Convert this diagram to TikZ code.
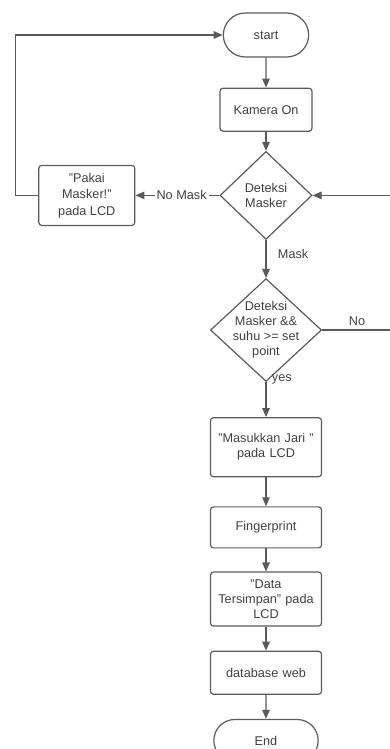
\documentclass[tikz,border=0pt]{standalone}
\usepackage{fontspec}
\setmainfont{Liberation Sans}
\usepackage{xcolor}
\usepackage{tikz}
\usetikzlibrary{shapes,arrows,arrows.meta}
\usetikzlibrary{arrows,positioning}
\definecolor{garis}{HTML}{5a5a5a}
\definecolor{teks}{HTML}{404040}
\tikzset{
    %Define standard arrow tip
    >={Triangle[length=9pt,width=7.5pt]},
    %Define style for boxes
    kotak/.style={
           rectangle,
           rounded corners=3pt,
           draw=garis, line width=1.2pt,
           text=teks,
           font=\fontsize{12.7}{15}\selectfont,
           minimum width=92pt,
           minimum height=43pt,
           align=center},
    % wider boxes in the lower part
    lebar/.style={
           kotak,
           minimum width=111pt,
           text width=100pt},
    % start and end
    ujung/.style={
           rounded rectangle,
           draw=garis, line width=1.2pt,
           text=teks,
           font=\fontsize{12.7}{15}\selectfont,
           minimum width=92pt,
           minimum height=44pt},
    % Define style for decisions
    belah/.style={
           diamond,
           aspect=1.08,
           draw=garis, line width=1.2pt,
           text=teks,
           font=\fontsize{12.7}{15}\selectfont,
           align=center},
    % Define arrow style
    panah/.style={
           ->,
           draw=garis,
           line width=1.2pt},
    tulisan/.style={
           text=teks,
           font=\fontsize{12.7}{15}\selectfont}
}

\begin{document}
\begin{tikzpicture}[x=1pt, y=1pt, node distance=24pt]
 \useasboundingbox (0,0) rectangle (390,-749);
 %nodes
 \node[ujung] (start) at (266,-35) {start};
 \node[kotak, below=30pt of start] (kamera) {Kamera On};
 \node[belah, minimum width=92pt, minimum height=88pt, below=19pt of kamera]
 (deteksi) {Deteksi\\Masker};
 \node[kotak, minimum width=96pt, minimum height=60pt,
   font=\fontsize{12.7}{16.5}\selectfont, left=84pt of deteksi]
 (pakai) {"Pakai\\Masker!"\\pada LCD};
 \node[belah, minimum width=109pt, minimum height=101pt, inner sep=-4pt,
   below=38pt of deteksi]
 (cek) {Deteksi\\Masker \&\&\\suhu >= set\\point};
 \node[lebar, minimum height=59pt, below=35pt of cek] (jari) {"Masukkan Jari "\\pada LCD};
 \node[lebar, minimum height=41pt, below=29pt of jari] (finger) {Fingerprint};
 \node[lebar, minimum height=54pt, below=23pt of finger] (data) {"Data\\Tersimpan" pada\\LCD};
 \node[lebar, below=of data] (web) {database web};
 \node[ujung, minimum width=111pt, minimum height=42pt, below=of web] (selesai) {End};
 % the return line runs just outside the picture
 \coordinate (tepi) at (392,0);
 %edges
 \draw[panah] (start) -- (kamera);
 \draw[panah] (kamera) -- (deteksi);
 \draw[panah] (deteksi) -- node[pos=0.45, fill=white, inner sep=2pt, tulisan] {No Mask} (pakai);
 \draw[panah] (pakai.west) -- ++(-23,0) |- (start.west);
 \draw[panah] (deteksi) -- node[pos=0.37, right=8pt, tulisan] {Mask} (cek);
 \draw[panah] (cek.east) -- (cek.east -| tepi) node[midway, above, tulisan] {No}
   |- (deteksi.east);
 \draw[panah] (cek) -- node[pos=0, right=2pt, yshift=3pt, tulisan] {yes} (jari);
 \draw[panah] (jari) -- (finger);
 \draw[panah] (finger) -- (data);
 \draw[panah] (data) -- (web);
 \draw[panah] (web) -- (selesai);
\end{tikzpicture}
\end{document}
